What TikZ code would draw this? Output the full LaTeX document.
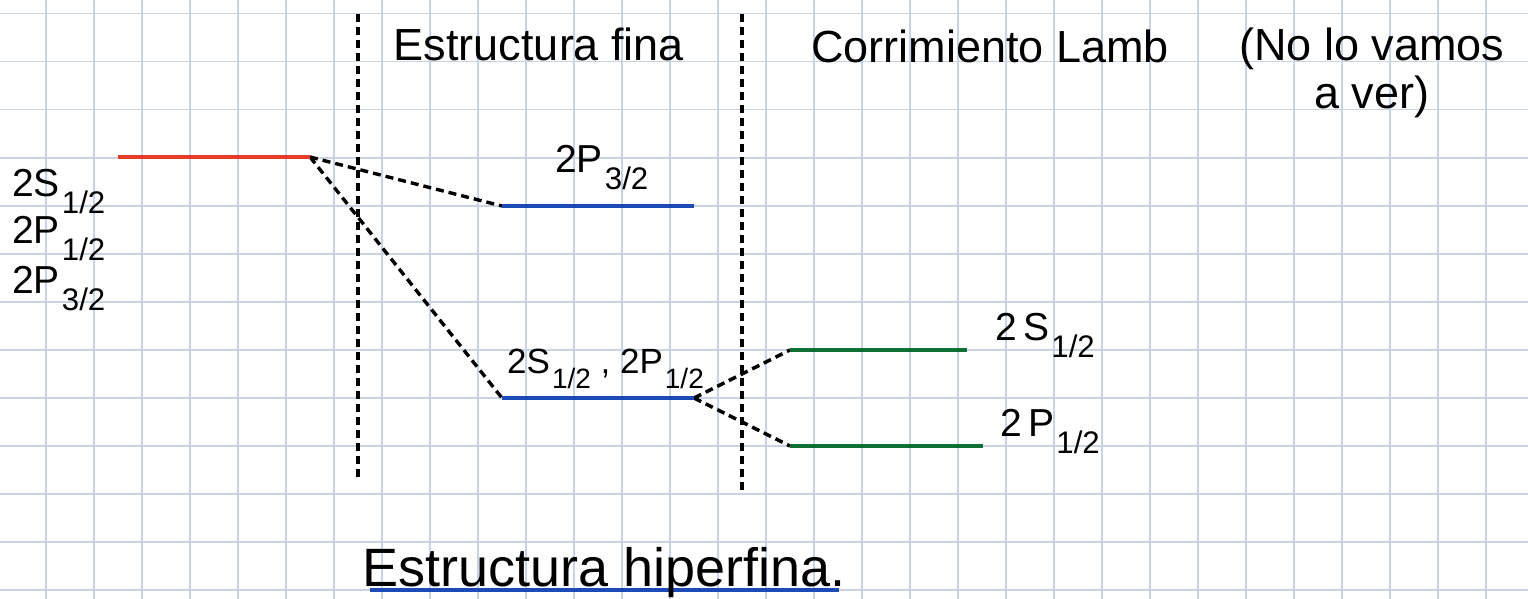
\documentclass[tikz,border=0pt]{standalone}
\usepackage{fontspec}
\setmainfont{Liberation Sans}
\definecolor{gridc}{RGB}{200,212,228}
\definecolor{lvred}{RGB}{232,58,40}
\definecolor{lvblue}{RGB}{28,74,182}
\definecolor{lvgreen}{RGB}{14,112,52}
\newcommand{\lsub}[1]{\hspace{2pt}\raisebox{-0.45em}{\scalebox{0.8}{#1}}}
\tikzset{
  level/.style={line width=4pt},
  conn/.style={line width=3.4pt, dash pattern=on 8pt off 5pt},
  divider/.style={line width=4pt, dash pattern=on 8pt off 5pt},
  txt/.style={inner sep=0pt, text=black},
  head/.style={txt, font=\fontsize{45}{48}\selectfont},
  lab/.style={txt, font=\fontsize{39}{44}\selectfont},
}
\begin{document}
\begin{tikzpicture}[x=1pt,y=-1pt]
\useasboundingbox (0,0) rectangle (1528,599);
\fill[white] (0,0) rectangle (1528,599);
% grid
\foreach \i in {0,...,30} \draw[gridc, line width=1.6pt] (46+48*\i,0) -- (46+48*\i,599);
\foreach \j in {0,...,12} \draw[gridc, line width=1.6pt] (0,13.7+48*\j) -- (1528,13.7+48*\j);

% level endpoints
\coordinate (r1) at (118,157);
\coordinate (r2) at (310,157);
\coordinate (u1) at (502,206);
\coordinate (u2) at (694,206);
\coordinate (m1) at (502,398);
\coordinate (m2) at (694,398);
\coordinate (g1) at (790,350);
\coordinate (g2) at (967,350);
\coordinate (h1) at (790,446);
\coordinate (h2) at (983,446);
\coordinate (d1a) at (358,14);
\coordinate (d1b) at (358,481);
\coordinate (d2a) at (742,14);
\coordinate (d2b) at (742,494);
\coordinate (ul1) at (370,590);
\coordinate (ul2) at (839,590);

% dividers
\draw[divider] (d1a) -- (d1b);
\draw[divider] (d2a) -- (d2b);

% connectors
\draw[conn] (r2) -- (u1);
\draw[conn] (r2) -- (m1);
\draw[conn] (m2) -- (g1);
\draw[conn] (m2) -- (h1);

% levels
\draw[level, lvred] (r1) -- (r2);
\draw[level, lvblue] (u1) -- (u2);
\draw[level, lvblue] (m1) -- (m2);
\draw[level, lvgreen] (g1) -- (g2);
\draw[level, lvgreen] (h1) -- (h2);

% headings
\node[head, anchor=base] (t1) at (539,61) {Estructura fina};
\node[head, anchor=base] (t2) at (990,63) {Corrimiento Lamb};
\node[head, align=center, anchor=north] (t3) at (1372,28) {(No lo vamos\\a ver)};

% labels
\node[lab, anchor=base west] (l1) at (12,196) {2S\lsub{1/2}};
\node[lab, anchor=base west] (l2) at (12,243) {2P\lsub{1/2}};
\node[lab, anchor=base west] (l3) at (12,293) {2P\lsub{3/2}};
\node[lab, anchor=base west] (l4) at (555,172) {2P\lsub{3/2}};
\node[lab, anchor=base west, font=\fontsize{35}{40}\selectfont] (l5) at (507,373) {2S\lsub{1/2} , 2P\lsub{1/2}};
\node[lab, anchor=base west] (l6) at (995,340) {2\,S\lsub{1/2}};
\node[lab, anchor=base west] (l7) at (1000,436) {2\,P\lsub{1/2}};

% bottom title
\draw[level, lvblue] (ul1) -- (ul2);
\node[txt, font=\fontsize{54}{60}\selectfont, anchor=base west] (t4) at (362,586) {Estructura hiperfina.};
\end{tikzpicture}
\end{document}
